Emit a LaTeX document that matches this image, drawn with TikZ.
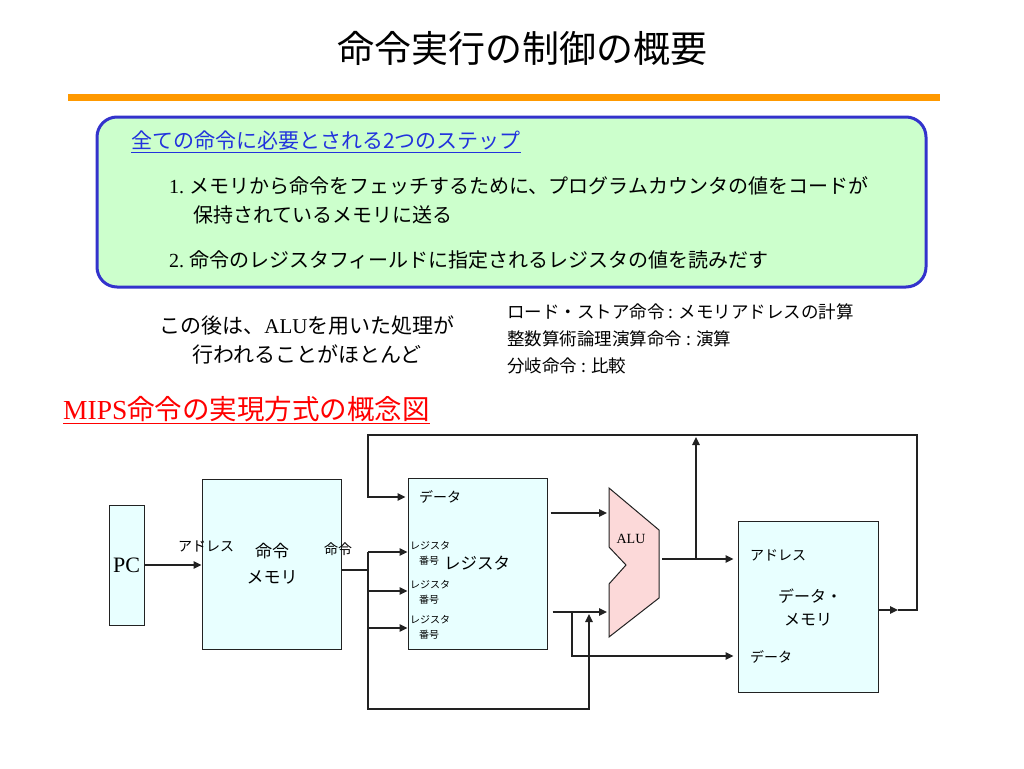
\documentclass[tikz,border=0pt]{standalone}
\usepackage{fontspec}
\setmainfont{Liberation Serif}
\newfontfamily\jp{Noto Sans CJK JP}
\usetikzlibrary{arrows.meta}
\definecolor{wirecol}{HTML}{222222}
\definecolor{boxcyan}{HTML}{E8FFFF}
\definecolor{alupink}{HTML}{FCD9D9}
\definecolor{stepgreen}{HTML}{CCFFCC}
\definecolor{stepblue}{HTML}{3333CC}
\definecolor{headblue}{HTML}{2233DD}
\definecolor{barorange}{HTML}{FF9900}
\newcommand\fsz[1]{\fontsize{#1}{#1}\selectfont}
\begin{document}
\begin{tikzpicture}[x=1pt,y=-1pt,
	wire/.style={draw=wirecol,line width=1.3pt},
	arr/.style={wire,-{Triangle[length=8pt,width=7.5pt]}},
	blk/.style={draw=wirecol,line width=1pt,fill=boxcyan,inner sep=0pt},
	lbl/.style={font=\jp\fsz{14},inner sep=0pt},
	tiny/.style={font=\jp\fsz{10},inner sep=0pt}]
	\fill[white] (0,0) rectangle (1024,768);
	\useasboundingbox (0,0) rectangle (1024,768);

	\node[font=\jp\fsz{37}] (title) at (522,48) {命令実行の制御の概要};
	\fill[barorange] (68,94) rectangle (940,101);

	\draw[stepblue,line width=3pt,fill=stepgreen,rounded corners=20pt] (97,117) rectangle (926,287);
	\node[anchor=west,inner sep=0pt,font=\jp\fsz{21},text=headblue] (steps) at (131,142) {\underline{全ての命令に必要とされる2つのステップ}};
	\node[anchor=west,inner sep=0pt,font=\fsz{20}] (step1) at (169,186) {1.\ {\jp メモリから命令をフェッチするために、プログラムカウンタの値をコードが}};
	\node[anchor=west,inner sep=0pt,font=\jp\fsz{20}] (step1b) at (193,215) {保持されているメモリに送る};
	\node[anchor=west,inner sep=0pt,font=\fsz{20}] (step2) at (169,260) {2.\ {\jp 命令のレジスタフィールドに指定されるレジスタの値を読みだす}};

	\node[font=\fsz{21},inner sep=0pt] (after1) at (307,326) {{\jp この後は、}ALU{\jp を用いた処理が}};
	\node[font=\jp\fsz{21},inner sep=0pt] (after2) at (307,354) {行われることがほとんど};
	\foreach \y/\t in {312/ロード・ストア命令 : メモリアドレスの計算,339/整数算術論理演算命令 : 演算,366/分岐命令 : 比較}
		\node[anchor=west,inner sep=0pt,font=\jp\fsz{17.5}] at (507,\y) {\t};

	\node[anchor=west,inner sep=0pt,font=\fsz{27.5},text=red] (mips) at (63,410) {\underline{MIPS{\jp 命令の実現方式の概念図}}};

	\node[blk,minimum width=35,minimum height=120,font=\fsz{22}] (pc) at (126.5,565) {PC};
	\node[blk,minimum width=139,minimum height=170] (imem) at (271.5,564) {};
	\node[blk,minimum width=139,minimum height=171] (reg) at (477.5,563.5) {};
	\node[blk,minimum width=140,minimum height=171] (dmem) at (808,606.5) {};

	\draw[wire,line width=1pt,fill=alupink] (609,488) -- (659,530) -- (659,598) -- (609,637) -- (609,584) -- (626,565) -- (609,547) -- cycle;
	\node[inner sep=0pt,font=\fsz{14}] (alu) at (631,539) {ALU};
	\coordinate (aluA) at (609,513);
	\coordinate (aluB) at (609,612);
	\coordinate (aluO) at (659,559);

	\node[lbl,font=\jp\fsz{17}] (imemA) at (272,551) {命令};
	\node[lbl,font=\jp\fsz{17}] (imemB) at (272,577) {メモリ};
	\node[lbl] (addr) at (206,546) {アドレス};
	\node[lbl] (inst) at (338,549) {命令};

	\node[lbl] (regdata) at (440,497) {データ};
	\node[lbl,font=\jp\fsz{16.5}] (regname) at (477,563) {レジスタ};
	\foreach \y in {546,585,620} {
		\node[tiny,anchor=west] at (410,\y) {レジスタ};
		\node[tiny] at (429,\y+15) {番号};
	}

	\node[lbl,anchor=west] (daddr) at (750,555) {アドレス};
	\node[lbl,font=\jp\fsz{16}] (dmemA) at (810,596) {データ・};
	\node[lbl,font=\jp\fsz{16}] (dmemB) at (808,620) {メモリ};
	\node[lbl,anchor=west] (ddata) at (750,657) {データ};

	\draw[arr] (pc.east) -- (pc.east -| imem.west);

	\coordinate (bus) at (368,570);
	\draw[wire] (imem.east |- bus) -- (bus);
	\foreach \y in {552,591,628} {
		\coordinate (p) at (368,\y);
		\draw[arr] (p) -- (p -| reg.west);
	}
	\draw[arr] (368,552) -- (368,709) -| (589,614);

	\draw[arr,shorten <=3pt,shorten >=2pt] (reg.east |- aluA) -- (aluA);
	\draw[arr,shorten <=5pt,shorten >=2pt] (reg.east |- aluB) -- (aluB);
	\coordinate (jB) at (572,612);
	\draw[arr,shorten >=4pt] (jB) |- ([yshift=-49.5pt]dmem.west);

	\draw[arr,shorten <=3pt,shorten >=4pt] (aluO) -- (aluO -| dmem.west);
	\coordinate (jO) at (696,559);
	\draw[arr] (jO) -- (696,437);

	\coordinate (wb) at (898,610);
	\coordinate (din) at (368,497);
	\draw[arr] (dmem.east |- wb) -- (wb);
	\draw[arr,shorten >=2pt] (wb) -- (917,610) -- (917,435) -| (din) -- (din -| reg.west);
\end{tikzpicture}
\end{document}
